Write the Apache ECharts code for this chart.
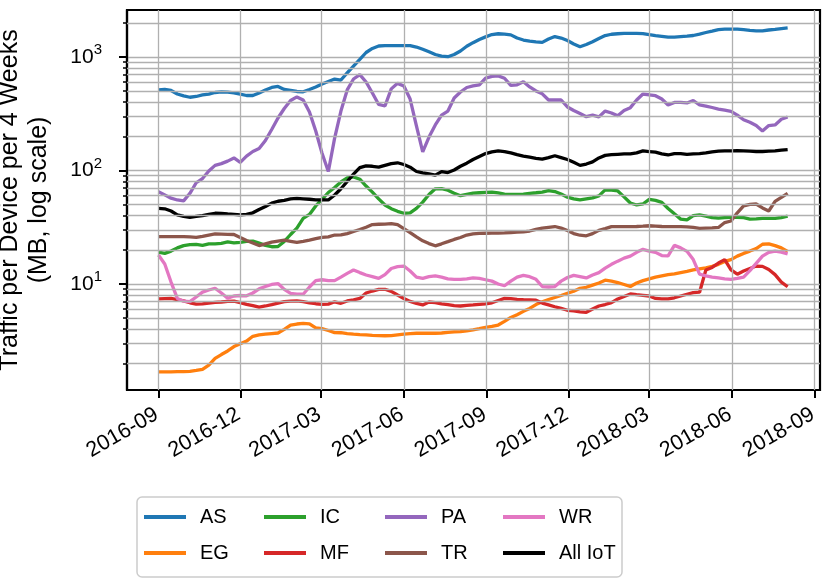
<!DOCTYPE html>
<html><head><meta charset="utf-8">
<script src="https://cdn.jsdelivr.net/npm/echarts@6/dist/echarts.min.js"></script>
<style>html,body{margin:0;padding:0;background:#fff}#c{width:831px;height:578px}</style>
</head><body><div id="c"></div>
<script>
const dates = ['2016-09-01','2016-09-08','2016-09-15','2016-09-22','2016-09-29','2016-10-06','2016-10-13','2016-10-20','2016-10-27','2016-11-03','2016-11-10','2016-11-17','2016-11-24','2016-12-01','2016-12-08','2016-12-15','2016-12-22','2016-12-29',
'2017-01-05','2017-01-12','2017-01-19','2017-01-26','2017-02-02','2017-02-09','2017-02-16','2017-02-23','2017-03-02','2017-03-09','2017-03-16','2017-03-23','2017-03-30','2017-04-06','2017-04-13','2017-04-20','2017-04-27','2017-05-04','2017-05-11','2017-05-18','2017-05-25','2017-06-01','2017-06-08','2017-06-15','2017-06-22','2017-06-29','2017-07-06','2017-07-13','2017-07-20','2017-07-27','2017-08-03','2017-08-10','2017-08-17','2017-08-24','2017-08-31','2017-09-07','2017-09-14','2017-09-21','2017-09-28','2017-10-05','2017-10-12','2017-10-19','2017-10-26','2017-11-02','2017-11-09','2017-11-16','2017-11-23','2017-11-30','2017-12-07','2017-12-14','2017-12-21','2017-12-28',
'2018-01-04','2018-01-11','2018-01-18','2018-01-25','2018-02-01','2018-02-08','2018-02-15','2018-02-22','2018-03-01','2018-03-08','2018-03-15','2018-03-22','2018-03-29','2018-04-05','2018-04-12','2018-04-19','2018-04-26','2018-05-03','2018-05-10','2018-05-17','2018-05-24','2018-05-31','2018-06-07','2018-06-14','2018-06-21','2018-06-28','2018-07-05','2018-07-12','2018-07-19','2018-07-26','2018-08-02'];

const AS = [513,518,507,472,454,442,449,463,472,487,492,490,484,470,458,458,482,513,539,550,518,509,497,494,518,545,579,609,640,627,724,833,955,1096,1190,1250,1258,1258,1258,1258,1258,1225,1170,1111,1052,1020,1006,1052,1130,1243,1338,1427,1505,1578,1603,1594,1568,1470,1412,1378,1360,1347,1440,1515,1470,1397,1302,1232,1288,1364,1455,1547,1587,1603,1613,1616,1616,1610,1578,1547,1522,1495,1500,1515,1530,1547,1594,1644,1694,1746,1758,1763,1763,1746,1718,1703,1703,1730,1750,1780,1806];
const EG = [1.68,1.68,1.68,1.69,1.69,1.70,1.73,1.77,1.93,2.21,2.39,2.57,2.81,2.98,3.14,3.46,3.56,3.61,3.66,3.70,3.98,4.35,4.44,4.49,4.46,4.10,4.04,3.89,3.73,3.72,3.66,3.61,3.58,3.56,3.53,3.51,3.50,3.51,3.56,3.61,3.65,3.68,3.68,3.68,3.68,3.70,3.74,3.78,3.81,3.87,3.94,4.04,4.15,4.24,4.35,4.68,5.07,5.36,5.74,6.09,6.59,6.97,7.30,7.60,7.92,8.28,8.64,9.17,9.35,9.77,10.2,10.8,10.6,10.3,9.9,9.5,10.2,10.7,11.1,11.5,11.8,12.1,12.3,12.6,12.9,13.3,13.6,13.9,14.3,14.9,15.8,16.4,17.6,18.6,19.5,20.5,22.4,22.6,21.8,20.8,19.4];
const IC = [19.1,18.6,19.5,20.8,21.8,22.2,22.3,21.9,22.6,22.6,22.8,23.5,23.0,23.3,23.7,23.9,22.9,21.9,21.3,21.4,23.7,27.3,31.1,37.8,41.0,48.7,55.6,64.0,70.8,79.2,86.0,87.8,83.8,73.0,64.5,56.2,49.7,46.1,43.7,42.0,42.4,46.4,52.7,61.5,69.0,69.3,67.0,63.1,60.0,61.7,63.1,63.7,64.2,64.5,63.4,62.0,61.5,61.5,62.0,63.0,63.7,64.5,66.6,65.2,62.0,58.2,56.2,55.0,56.2,57.4,59.7,67.5,67.2,66.0,58.6,51.7,49.7,50.7,55.6,54.5,52.4,46.3,41.5,37.3,36.7,40.0,40.6,39.7,38.5,38.1,38.5,38.7,38.7,38.4,37.3,37.5,37.8,37.9,37.9,38.5,39.7];
const MF = [7.38,7.43,7.47,7.30,7.09,6.83,6.65,6.68,6.79,6.88,6.94,7.04,7.05,6.86,6.61,6.44,6.25,6.40,6.59,6.79,7.00,7.05,7.09,6.99,6.83,6.70,6.62,6.65,6.97,6.76,7.09,7.26,7.46,8.33,8.67,8.95,8.98,8.62,8.00,7.46,7.02,6.75,6.54,6.94,6.86,6.68,6.59,6.46,6.40,6.49,6.55,6.62,6.68,6.83,7.16,7.46,7.42,7.33,7.28,7.25,7.19,6.79,6.54,6.30,6.09,5.87,5.79,5.69,5.63,6.02,6.40,6.59,6.86,7.38,7.77,8.17,8.05,7.95,7.84,7.46,7.38,7.38,7.56,7.84,8.12,8.40,8.47,13.3,14.0,15.3,16.4,13.3,12.2,13.0,13.7,14.4,14.3,13.4,12.1,10.4,9.45];
const PA = [65,61,57,55,54,63,78,85,99,111,115,121,129,118,134,147,156,184,230,290,352,414,445,418,328,223,142,98,193,334,513,640,700,602,482,382,370,524,586,556,426,247,146,197,252,308,334,436,492,539,556,567,652,675,682,650,563,569,605,545,502,474,418,418,418,363,338,318,298,308,297,334,321,303,338,358,418,472,465,456,426,378,398,398,394,414,378,370,359,348,340,332,308,280,266,249,223,249,252,283,296];
const TR = [26.1,26.1,26.1,26.1,26.1,26.0,25.8,26.3,27.0,27.6,27.5,27.4,27.3,25.7,24.2,23.0,21.8,22.6,23.4,23.9,24.3,23.8,23.3,23.8,24.4,25.1,25.7,26.0,27.0,27.1,27.8,29.0,30.2,31.6,33.4,33.6,33.7,34.1,33.4,30.8,28.4,26.0,24.0,22.7,21.7,22.6,23.6,24.7,25.7,27.0,27.6,27.9,28.0,28.1,28.1,28.2,28.4,28.6,28.8,29.3,30.3,31.1,31.6,32.1,31.1,29.6,27.8,26.9,26.6,27.8,29.7,30.8,32.0,32.0,32.0,32.0,32.1,32.3,32.6,32.4,32.1,32.0,32.0,32.0,31.9,31.5,30.9,31.1,31.2,31.5,34.8,35.9,42.4,48.7,50.2,50.7,46.8,44.0,53.4,57.9,63.0];
const WR = [18.0,15.0,10.4,7.46,7.05,6.99,7.68,8.47,8.85,9.17,8.33,7.48,7.84,7.92,7.87,8.33,9.05,9.5,9.9,10.1,8.97,8.25,8.13,8.12,9.41,10.7,10.9,10.7,10.7,11.5,12.4,13.3,12.6,12.0,11.6,11.2,12.1,13.7,14.2,14.4,13.0,11.5,11.2,11.6,11.8,11.5,11.1,11.0,11.0,11.1,11.3,11.2,10.9,10.6,10.0,9.65,10.6,11.5,11.9,11.6,11.0,9.5,9.41,9.5,10.6,11.4,11.9,11.6,11.3,12.0,12.6,13.8,14.9,15.9,16.9,17.6,19.0,20.2,19.5,19.0,17.8,17.7,21.9,20.8,19.4,16.4,12.2,11.8,11.5,11.3,11.1,11.0,11.2,11.5,13.1,15.2,17.6,19.0,19.5,19.1,18.4];
const ALL_IOT = [46.4,46.0,44.0,40.7,39.4,38.7,39.4,40.0,41.1,42.0,41.8,41.4,41.1,40.7,41.1,42.4,45.4,48.2,51.6,53.6,54.5,56.2,56.8,56.3,55.8,55.2,55.0,55.0,60.9,69.0,80.0,93.0,106,110,109,107,111,115,117,113,107,98.0,95.5,93.3,91.0,97.8,96.0,101,109,116,125,133,141,146,149,147,143,138,134,131,128,126,130,135,130,125,118,111,114,119,129,136,138,139,140,140,143,149,147,145,140,137,141,141,139,140,141,143,146,148,149,149,150,149,148,147,147,148,149,151,153];

const seriesNames = ['AS','EG','IC','MF','PA','TR','WR','All IoT'];
const seriesValues = [AS, EG, IC, MF, PA, TR, WR, ALL_IOT];
const seriesColors = ['#1f77b4','#ff7f0e','#2ca02c','#d62728','#9467bd','#8c564b','#e377c2','#000000'];
const xTickDates = ['2016-09-01','2016-12-01','2017-03-01','2017-06-01','2017-09-01','2017-12-01','2018-03-01','2018-06-01','2018-09-01'];
const xRange = ['2016-07-28','2018-09-07'];
const yRange = [1.164, 2596];
const yMajorTicks = [10, 100, 1000];
const yMinorTicks = [2,3,4,5,6,7,8,9,20,30,40,50,60,70,80,90,200,300,400,500,600,700,800,900,2000];
const legendColumns = [['AS','EG'],['IC','MF'],['PA','TR'],['WR','All IoT']];

const FONT = "'Liberation Sans', Arial, Helvetica, sans-serif";
const t = s => +echarts.time.parse(s);

const chart = echarts.init(document.getElementById('c'), null, {renderer: 'canvas'});

const dataSeries = seriesNames.map((name, k) => ({
  name: name,
  type: 'line',
  data: dates.map((d, i) => [t(d), seriesValues[k][i]]),
  showSymbol: false,
  symbol: 'none',
  color: seriesColors[k],
  lineStyle: {width: 3.3, color: seriesColors[k]},
  z: 3,
  animation: false,
  emphasis: {disabled: true}
}));

const gridSeries = {
  name: '_grid',
  type: 'line',
  data: [],
  z: 1,
  silent: true,
  animation: false,
  markLine: {
    silent: true,
    animation: false,
    symbol: ['none', 'none'],
    label: {show: false},
    emphasis: {disabled: true},
    lineStyle: {color: '#b0b0b0', width: 1.3, type: 'solid'},
    data: yMinorTicks.map(v => ({yAxis: v})).concat(xTickDates.map(d => ({xAxis: t(d)})))
  }
};

const legendLeft = [144, 264, 385, 503];
const legends = legendColumns.map((col, i) => ({
  data: col,
  orient: 'vertical',
  left: legendLeft[i],
  top: 507,
  padding: 0,
  itemGap: 16,
  itemWidth: 42,
  itemHeight: 4,
  icon: 'rect',
  selectedMode: false,
  itemStyle: {borderWidth: 0},
  textStyle: {fontSize: 20, fontFamily: FONT, color: '#000', lineHeight: 20, padding: [0, 0, 0, 9]}
}));

chart.setOption({
  animation: false,
  backgroundColor: '#ffffff',
  textStyle: {fontFamily: FONT},
  grid: {left: 127, right: 11, top: 10, bottom: 188, containLabel: false, outerBoundsMode: 'none',
         show: true, borderColor: '#000', borderWidth: 2.2, backgroundColor: 'transparent'},
  legend: legends,
  graphic: [{
    type: 'rect', z: -1,
    shape: {x: 137, y: 497, width: 485, height: 80, r: 5},
    style: {fill: '#fff', stroke: '#cccccc', lineWidth: 1.5}
  }],
  xAxis: {
    type: 'value',
    min: t(xRange[0]),
    max: t(xRange[1]),
    axisLine: {show: true, onZero: false, lineStyle: {color: '#000', width: 2.2}},
    axisTick: {show: true, length: 8, lineStyle: {color: '#000', width: 2}, customValues: xTickDates.map(t)},
    axisLabel: {
      customValues: xTickDates.map(t),
      rotate: 30, margin: 22, padding: [0, 2, 0, 0], fontSize: 21.5, color: '#000', fontFamily: FONT, hideOverlap: false,
      formatter: v => echarts.time.format(v, '{yyyy}-{MM}', false)
    },
    splitLine: {show: false}
  },
  yAxis: [{
    type: 'log',
    logBase: 10,
    min: yRange[0],
    max: yRange[1],
    name: 'Traffic per Device per 4 Weeks\n(MB, log scale)',
    nameLocation: 'middle',
    nameRotate: 90,
    nameGap: 73,
    nameTextStyle: {fontSize: 25, lineHeight: 29, color: '#000', fontFamily: FONT},
    axisLine: {show: true, lineStyle: {color: '#000', width: 2.2}},
    axisTick: {show: true, length: 8, lineStyle: {color: '#000', width: 2}, customValues: yMajorTicks},
    axisLabel: {
      customValues: yMajorTicks,
      margin: 25,
      formatter: function (v) {
        const e = Math.round(Math.log10(v));
        if (Math.abs(v - Math.pow(10, e)) > 1e-6 * v) return '';
        return '{b|10}{s|' + e + '}';
      },
      rich: {
        b: {fontSize: 21, color: '#000', fontFamily: FONT},
        s: {fontSize: 15, color: '#000', fontFamily: FONT, padding: [0, 0, 14, 0]}
      }
    },
    splitLine: {show: true, lineStyle: {color: '#b0b0b0', width: 1.3}}
  }, {
    type: 'log',
    logBase: 10,
    min: yRange[0],
    max: yRange[1],
    position: 'left',
    offset: 0,
    axisLine: {show: false},
    axisLabel: {show: false},
    splitLine: {show: false},
    axisTick: {show: true, length: 4, lineStyle: {color: '#000', width: 1.5}, customValues: yMinorTicks}
  }],
  series: [gridSeries].concat(dataSeries)
});
</script>
</body></html>
